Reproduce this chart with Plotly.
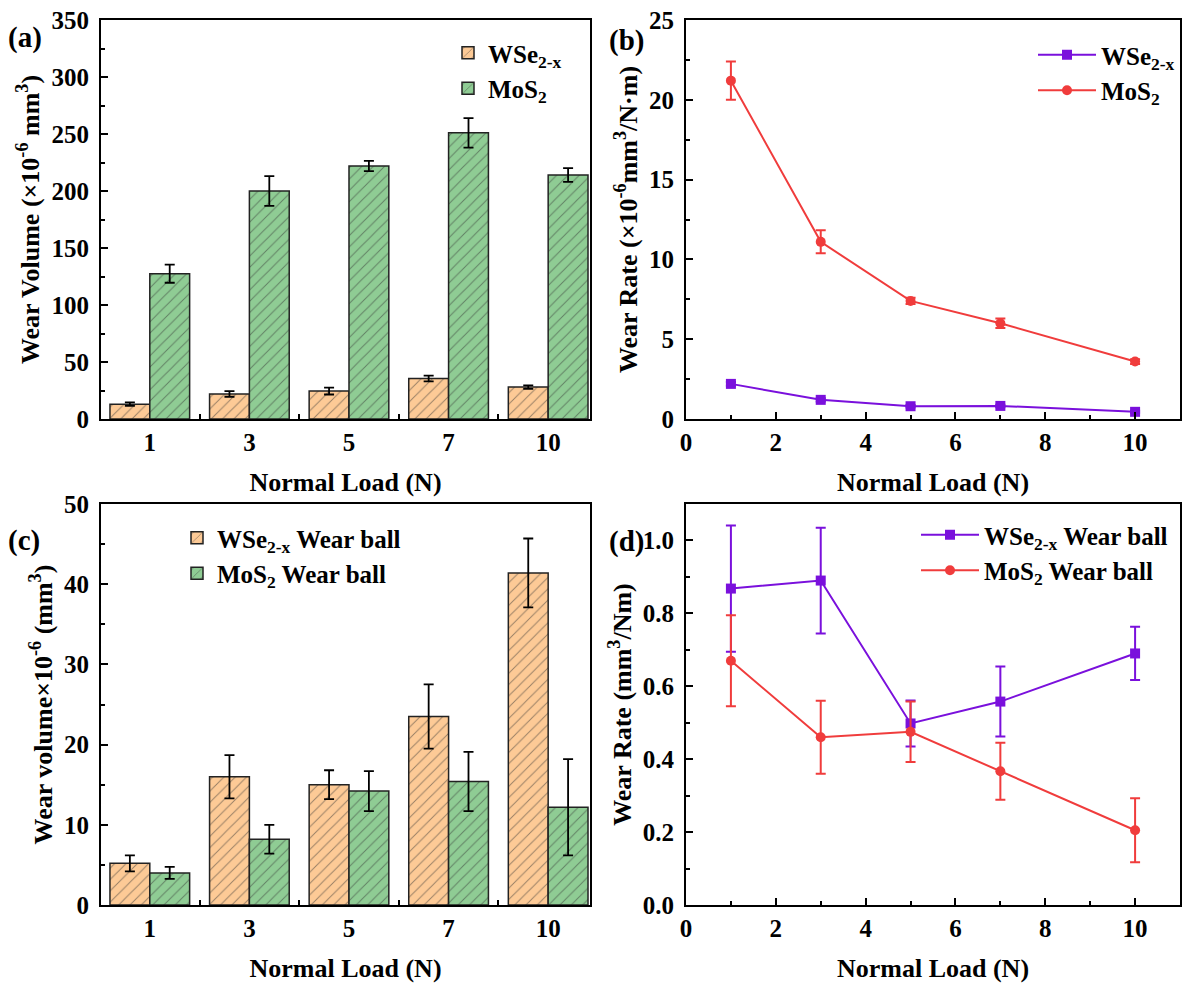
import plotly.graph_objects as go

# ---------------- data ----------------
loads_cat = ["1", "3", "5", "7", "10"]
loads = [1, 3, 5, 7, 10]

# (a) wear volume of coatings (x10^-6 mm^3)
a_wse = [13, 22, 24.5, 35.5, 28]
a_wse_err = [1.5, 2.5, 3, 2.5, 1.5]
a_mos = [127.5, 200, 222, 251, 214]
a_mos_err = [8, 13, 4.5, 13, 6]

# (b) wear rate of coatings (x10^-6 mm^3/N·m)
b_wse = [2.2, 1.2, 0.8, 0.82, 0.45]
b_wse_err = [0.12, 0.1, 0.08, 0.08, 0.06]
b_mos = [21.2, 11.1, 7.4, 6.0, 3.6]
b_mos_err = [1.2, 0.72, 0.2, 0.3, 0.15]

# (c) wear volume of balls (x10^-6 mm^3)
c_wse = [5.2, 16.0, 15.0, 23.5, 41.4]
c_wse_err = [1.0, 2.7, 1.8, 4.0, 4.3]
c_mos = [4.0, 8.2, 14.2, 15.4, 12.2]
c_mos_err = [0.75, 1.8, 2.5, 3.7, 6.0]

# (d) wear rate of balls (mm^3/Nm)
d_wse = [0.868, 0.890, 0.498, 0.558, 0.690]
d_wse_err = [0.173, 0.145, 0.063, 0.096, 0.073]
d_mos = [0.670, 0.460, 0.475, 0.367, 0.205]
d_mos_err = [0.125, 0.100, 0.083, 0.078, 0.088]

# ---------------- style ----------------
FONT = "Liberation Serif, Times New Roman, serif"
ORANGE = "#FDCA96"
GREEN = "#8FCC94"
PURPLE = "#7A10DC"
RED = "#F03C3C"
W, H = 1192, 988

def px_x(a, b):
    return [a / W, b / W]

def px_y(top, bottom):
    return [1 - bottom / H, 1 - top / H]

fig = go.Figure()

def bar(x, y, err, color, name, xa, ya, legend):
    return go.Bar(
        x=x, y=y, name=name, xaxis=xa, yaxis=ya, legend=legend,
        marker=dict(color=color, line=dict(color="#222222", width=1.5),
                    pattern=dict(shape="/", fgcolor="#333333", size=8,
                                 solidity=0.12, fillmode="overlay")),
        error_y=dict(type="data", array=err, color="black", thickness=1.8, width=5),
    )

def line(x, y, err, color, symbol, name, xa, ya, legend):
    return go.Scatter(
        x=x, y=y, name=name, xaxis=xa, yaxis=ya, legend=legend,
        mode="lines+markers",
        line=dict(color=color, width=2),
        marker=dict(color=color, symbol=symbol, size=10),
        error_y=dict(type="data", array=err, color=color, thickness=2, width=5),
    )

# (a)
fig.add_trace(bar(loads_cat, a_wse, a_wse_err, ORANGE, "WSe<sub>2-x</sub>", "x", "y", "legend"))
fig.add_trace(bar(loads_cat, a_mos, a_mos_err, GREEN, "MoS<sub>2</sub>", "x", "y", "legend"))
# (b)
fig.add_trace(line(loads, b_wse, b_wse_err, PURPLE, "square", "WSe<sub>2-x</sub>", "x2", "y2", "legend2"))
fig.add_trace(line(loads, b_mos, b_mos_err, RED, "circle", "MoS<sub>2</sub>", "x2", "y2", "legend2"))
# (c)
fig.add_trace(bar(loads_cat, c_wse, c_wse_err, ORANGE, "WSe<sub>2-x</sub> Wear ball", "x3", "y3", "legend3"))
fig.add_trace(bar(loads_cat, c_mos, c_mos_err, GREEN, "MoS<sub>2</sub> Wear ball", "x3", "y3", "legend3"))
# (d)
fig.add_trace(line(loads, d_wse, d_wse_err, PURPLE, "square", "WSe<sub>2-x</sub> Wear ball", "x4", "y4", "legend4"))
fig.add_trace(line(loads, d_mos, d_mos_err, RED, "circle", "MoS<sub>2</sub> Wear ball", "x4", "y4", "legend4"))

tickfont = dict(family=FONT, size=25, color="black", weight="bold")
titlefont = dict(family=FONT, size=26, color="black", weight="bold")

def base_axis(**kw):
    d = dict(showline=True, linecolor="black", linewidth=2, mirror=True,
             showgrid=False, zeroline=False, ticks="inside", ticklen=7,
             tickwidth=2, tickcolor="black", tickfont=tickfont, automargin=False)
    d.update(kw)
    return d

def yminor(dt):
    return dict(ticks="inside", ticklen=4, tickwidth=2, dtick=dt, tickcolor="black")

xlab = "Normal Load (N)"

LX = px_x(101, 590)
RX = px_x(686, 1180)
TY = px_y(20, 419)
BY = px_y(504, 905)

fig.update_layout(
    width=W, height=H,
    margin=dict(l=0, r=0, t=0, b=0),
    paper_bgcolor="white", plot_bgcolor="white",
    font=dict(family=FONT, color="black", weight="bold"),
    barmode="group", bargap=0.2, bargroupgap=0,
    xaxis=base_axis(domain=LX, anchor="y", type="category", range=[-0.49, 4.42],
                    tickson="boundaries", ticklen=5,
                    title=dict(text=xlab, font=titlefont, standoff=18)),
    yaxis=base_axis(domain=TY, anchor="x", range=[0, 350], dtick=50, minor=yminor(25),
                    ticklabelstandoff=5,
                    title=dict(text="Wear Volume (×10<sup>-6</sup> mm<sup>3</sup>)",
                               font=titlefont, standoff=4)),
    xaxis2=base_axis(domain=RX, anchor="y2", range=[0, 11], dtick=2, minor=yminor(1),
                     title=dict(text=xlab, font=titlefont, standoff=18)),
    yaxis2=base_axis(domain=TY, anchor="x2", range=[0, 25], dtick=5, minor=yminor(2.5),
                     ticklabelstandoff=5,
                     title=dict(text="Wear Rate (×10<sup>-6</sup>mm<sup>3</sup>/N·m)",
                                font=titlefont, standoff=4)),
    xaxis3=base_axis(domain=LX, anchor="y3", type="category", range=[-0.49, 4.42],
                     tickson="boundaries", ticklen=5,
                     title=dict(text=xlab, font=titlefont, standoff=18)),
    yaxis3=base_axis(domain=BY, anchor="x3", range=[0, 50], dtick=10, minor=yminor(5),
                     ticklabelstandoff=5,
                     title=dict(text="Wear volume×10<sup>-6</sup> (mm<sup>3</sup>)",
                                font=titlefont, standoff=4)),
    xaxis4=base_axis(domain=RX, anchor="y4", range=[0, 11], dtick=2, minor=yminor(1),
                     title=dict(text=xlab, font=titlefont, standoff=18)),
    yaxis4=base_axis(domain=BY, anchor="x4", range=[0, 1.1], dtick=0.2, tickformat=".1f",
                     minor=yminor(0.1), ticklabelstandoff=5,
                     title=dict(text="Wear Rate (mm<sup>3</sup>/Nm)",
                                font=titlefont, standoff=4)),
)

legfont = dict(family=FONT, size=25, color="black", weight="bold")

def leg(x, y, itemwidth=30):
    return dict(x=x / W, y=1 - y / H, xanchor="left", yanchor="top",
                bgcolor="rgba(0,0,0,0)", borderwidth=0, font=legfont,
                itemwidth=itemwidth, tracegroupgap=4)

fig.update_layout(
    legend=leg(448, 30),
    legend2=leg(1033, 32, itemwidth=58),
    legend3=leg(177, 515),
    legend4=leg(916, 512, itemwidth=58),
)

labfont = dict(family=FONT, size=29, color="black", weight="bold")
for txt, x, y in [("(a)", 25, 38), ("(b)", 627, 40), ("(c)", 24, 540), ("(d)", 626, 541)]:
    fig.add_annotation(text=txt, x=x / W, y=1 - y / H, xref="paper", yref="paper",
                       showarrow=False, font=labfont, xanchor="center", yanchor="middle")

fig.write_html("out.html", config={"displayModeBar": False},
               post_script="document.body.style.margin='0';")
